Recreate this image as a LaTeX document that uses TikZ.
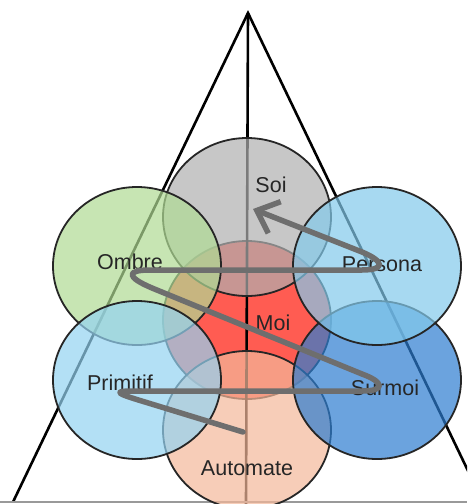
\documentclass[tikz,border=0pt]{standalone}
\usepackage{fontspec}
\setmainfont{Liberation Sans}
\usetikzlibrary{arrows.meta,shapes.geometric}
\definecolor{moiC}{RGB}{255,92,82}
\definecolor{soiC}{RGB}{176,176,176}
\definecolor{ombreC}{RGB}{176,219,148}
\definecolor{personaC}{RGB}{131,202,236}
\definecolor{primC}{RGB}{148,211,242}
\definecolor{surmoiC}{RGB}{45,125,208}
\definecolor{autoC}{RGB}{245,184,154}
\definecolor{spiralC}{RGB}{110,110,110}
\begin{document}
\begin{tikzpicture}[x=1pt,y=-1pt,
  blob/.style={ellipse, draw=black!85, line width=1.8pt, minimum width=168pt, minimum height=158pt, inner sep=0pt, fill opacity=0.7},
  lbl/.style={font=\fontsize{21.5}{25}\selectfont, text=black!85, inner sep=0pt},
  tri/.style={line width=2.6pt, black},
  spiral/.style={line width=5.5pt, spiralC, line cap=round, line join=round}]
\useasboundingbox (0,0) rectangle (467,504);
\clip (0,0) rectangle (467,504);
\fill[white] (0,0) rectangle (467,504);
% Moi first (opaque)
\node[blob, fill=moiC, fill opacity=1] (moi) at (247,320) {};
% triangle
\coordinate (apex) at (248,13);
\coordinate (bl) at (13,502);
\coordinate (br) at (483,502);
\coordinate (bot) at (246,504);
\draw[tri] (bl) -- (apex) -- (br);
\draw[tri] (apex) -- (bot);
\coordinate (gl) at (0,502);
\coordinate (gr) at (467,502);
\draw[gray!80, line width=1.2pt] (gl) -- (gr);
% other circles
\node[blob, fill=autoC] (automate) at (247,430) {};
\node[blob, fill=surmoiC] (surmoi) at (377,380) {};
\node[blob, fill=soiC] (soi) at (247,217) {};
\node[blob, fill=ombreC] (ombre) at (137,266) {};
\node[blob, fill=primC] (primitif) at (137,380) {};
\node[blob, fill=personaC] (persona) at (377,266) {};
% labels
\node[lbl] (tsoi) at (271,185) {Soi};
\node[lbl] (tombre) at (130,262) {Ombre};
\node[lbl] (tpersona) at (382,264) {Persona};
\node[lbl] (tmoi) at (273,323) {Moi};
\node[lbl] (tprim) at (120,383) {Primitif};
\node[lbl] (tsurmoi) at (385,388) {Surmoi};
\node[lbl] (tauto) at (247,468) {Automate};
% spiral arrow
\coordinate (sstart) at (243,432);
\coordinate (send) at (253,209);
\draw[spiral, -{Straight Barb[length=19pt,width=34pt]}]
  (sstart) -- (145,402) .. controls (115,393) and (112,391) .. (135,391)
  -- (362,391) .. controls (386,391) and (384,382) .. (362,374)
  -- (152,288) .. controls (126,277) and (126,270) .. (150,270)
  -- (362,270) .. controls (386,270) and (384,261) .. (362,252)
  -- (send);
\end{tikzpicture}
\end{document}
